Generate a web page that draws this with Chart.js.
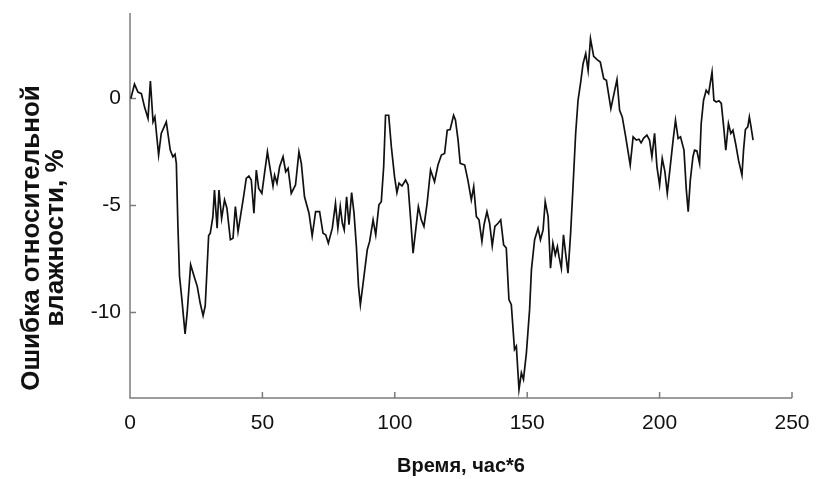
<!DOCTYPE html>
<html lang="ru">
<head>
<meta charset="utf-8">
<title>Ошибка относительной влажности</title>
<script src="https://cdn.jsdelivr.net/npm/chart.js@4.4.1/dist/chart.umd.min.js"></script>
<style>
  html, body { margin: 0; padding: 0; background: #fff; }
  #wrap { width: 816px; height: 479px; }
</style>
</head>
<body>
<div id="wrap"><canvas id="rhChart" width="816" height="479"></canvas></div>
<script>
// time axis, units of 6 hours
const timeSteps = [
  0.3, 1.7, 3.0, 4.3, 5.5, 6.8, 7.7, 8.7, 9.4, 10.8, 11.8, 13.7, 15.2, 16.2, 17.0, 17.5,
  18.1, 18.7, 19.6, 20.8, 21.6, 22.9, 24.4, 25.4, 26.5, 27.6, 28.4, 29.0, 29.7, 30.3, 31.3,
  31.9, 32.9, 33.6, 34.6, 35.7, 36.6, 37.9, 38.9, 39.8, 40.8, 42.0, 42.9, 43.9, 44.9, 45.8,
  46.8, 47.7, 48.6, 49.8, 50.8, 51.9, 53.0, 54.0, 54.6, 55.5, 56.5, 57.8, 58.8, 59.7, 60.9,
  62.5, 63.8, 64.7, 65.9, 67.6, 68.8, 70.1, 71.6, 72.9, 73.9, 74.9, 76.4, 77.6, 78.5, 79.4,
  80.2, 80.9, 81.8, 82.7, 83.7, 84.6, 85.5, 86.3, 87.0, 88.2, 89.6, 90.5, 91.8, 92.8, 94.0,
  94.9, 95.8, 96.5, 97.7, 98.7, 99.9, 100.8, 101.6, 102.7, 104.1, 105.0, 106.0, 106.9, 107.9,
  108.9, 110.0, 111.0, 112.2, 113.5, 115.0, 116.3, 117.6, 118.8, 119.8, 120.9, 122.2, 122.9,
  123.9, 124.7, 126.4, 127.6, 128.9, 129.8, 130.8, 131.8, 132.9, 133.7, 134.8, 135.8, 136.8,
  137.8, 139.0, 140.0, 141.1, 142.1, 143.1, 144.0, 145.2, 145.9, 146.9, 147.8, 148.6, 149.7,
  150.9, 151.6, 152.8, 154.1, 155.0, 156.0, 156.8, 157.9, 158.8, 159.7, 160.6, 161.4, 162.0,
  162.9, 163.7, 164.5, 165.4, 166.4, 167.3, 168.3, 169.2, 170.2, 171.1, 172.1, 173.0, 173.9,
  175.1, 176.4, 177.6, 178.9, 179.9, 181.6, 183.9, 184.9, 185.9, 187.2, 188.0, 188.9, 190.0,
  191.2, 192.2, 193.0, 194.0, 195.2, 196.2, 197.1, 198.1, 199.0, 200.0, 201.0, 202.0, 202.9,
  204.0, 205.1, 206.0, 207.0, 207.9, 209.2, 210.1, 210.8, 211.6, 212.6, 213.2, 214.1, 215.1,
  215.7, 216.6, 217.6, 218.5, 219.1, 219.8, 220.5, 221.4, 222.4, 223.3, 224.2, 225.0, 226.0,
  226.9, 227.7, 228.7, 229.8, 231.1, 231.7, 232.4, 233.3, 233.9, 234.5, 235.3
];

// relative humidity error, %
const rhError = [
  0.0, 0.67, 0.3, 0.23, -0.4, -0.93, 0.82, -1.09, -0.86, -2.64, -1.63, -1.09, -2.41, -2.72, -2.6, -3.03,
  -5.98, -8.3, -9.4, -11.0, -10.0, -7.77, -8.39, -8.78, -9.56, -10.15, -9.7, -8.2, -6.4, -6.3, -5.52,
  -4.28, -6.06, -4.28, -5.6, -4.74, -5.13, -6.6, -6.53, -5.05, -6.22, -5.29, -4.59, -3.73, -3.62, -3.81,
  -5.36, -3.34, -4.2, -4.43, -3.5, -2.49, -3.34, -4.09, -3.58, -3.96, -3.19, -2.72, -3.42, -3.26, -4.43,
  -4.04, -2.49, -3.03, -4.59, -5.36, -6.42, -5.29, -5.29, -6.3, -6.37, -6.76, -6.06, -4.9, -6.06, -5.05,
  -5.83, -6.14, -4.59, -5.9, -4.4, -5.36, -6.92, -8.78, -9.64, -8.47, -7.07, -6.68, -5.67, -6.37, -4.97,
  -4.82, -3.19, -0.78, -0.78, -2.26, -3.65, -4.4, -3.96, -4.09, -3.81, -4.04, -5.67, -7.23, -6.14,
  -5.05, -5.67, -5.98, -4.9, -3.34, -3.89, -3.11, -2.64, -2.57, -1.48, -1.45, -0.78, -1.0,
  -1.94, -3.03, -3.11, -3.81, -4.74, -4.12, -5.52, -5.67, -6.68, -5.9, -5.29, -5.83, -6.89,
  -5.98, -5.83, -5.67, -6.84, -6.99, -9.4, -9.64, -11.73, -11.58, -13.6, -12.82, -13.13, -11.89,
  -9.87, -8.0, -6.6, -6.06, -6.6, -6.14, -4.82, -5.52, -7.93, -6.76, -7.31, -6.92, -7.38,
  -7.93, -6.37, -7.23, -8.16, -6.29, -4.12, -1.63, -0.08, 0.77, 1.63, 2.1, 1.32, 2.8,
  1.97, 1.82, 1.71, 0.93, 0.85, -0.47, 0.89, -0.55, -0.86, -1.79, -2.41, -3.11, -1.79,
  -1.94, -1.9, -2.07, -1.85, -1.71, -1.94, -2.72, -1.63, -3.19, -4.04, -2.8, -3.42, -4.43,
  -3.19, -1.94, -1.01, -1.87, -1.79, -2.41, -4.28, -5.29, -3.81, -2.72, -2.41, -2.45, -3.03,
  -1.17, -0.08, 0.39, 0.23, 0.7, 1.24, -0.08, -0.16, -0.1, -0.23, -1.32, -2.41, -1.17,
  -1.63, -1.48, -2.1, -2.88, -3.58, -2.41, -1.45, -1.32, -0.86, -1.3, -1.94
];

const xTicks = [0, 50, 100, 150, 200, 250];
const yTicks = [-10, -5, 0];
const xTitle = 'Время, час*6';
const yTitle = ['Ошибка относительной', 'влажности, %'];

const AXIS_COLOR = '#7c7c7c';
const TICK_FONT = '21px "Liberation Sans", Arial, sans-serif';
const X_TITLE_FONT = 'bold 20px "Liberation Sans", Arial, sans-serif';
const Y_TITLE_FONT = 'bold 26px "Liberation Sans", Arial, sans-serif';

// axis lines, inward tick marks, tick labels and titles
const axisDecor = {
  id: 'axisDecor',
  beforeDatasetsDraw(chart) {
    const { ctx, chartArea: a, scales: { x, y } } = chart;
    ctx.save();
    ctx.strokeStyle = AXIS_COLOR;
    ctx.lineWidth = 1.5;
    ctx.beginPath();
    ctx.moveTo(a.left, a.top);
    ctx.lineTo(a.left, a.bottom);
    ctx.lineTo(a.right, a.bottom);
    xTicks.forEach(v => {
      const px = x.getPixelForValue(v);
      ctx.moveTo(px, a.bottom);
      ctx.lineTo(px, a.bottom - 6);
    });
    yTicks.forEach(v => {
      const py = y.getPixelForValue(v);
      ctx.moveTo(a.left, py);
      ctx.lineTo(a.left + 6, py);
    });
    ctx.stroke();
    ctx.restore();
  },
  afterDraw(chart) {
    const { ctx, chartArea: a, scales: { x, y } } = chart;
    ctx.save();
    ctx.fillStyle = '#111';
    ctx.font = TICK_FONT;
    ctx.textBaseline = 'middle';
    ctx.textAlign = 'center';
    xTicks.forEach(v => ctx.fillText(String(v), x.getPixelForValue(v), a.bottom + 25));
    ctx.textAlign = 'right';
    yTicks.forEach(v => ctx.fillText(String(v), a.left - 9, y.getPixelForValue(v)));

    ctx.font = X_TITLE_FONT;
    ctx.textAlign = 'center';
    ctx.fillText(xTitle, (a.left + a.right) / 2, 466);

    ctx.font = Y_TITLE_FONT;
    ctx.translate(44, 238);
    ctx.rotate(-Math.PI / 2);
    ctx.fillText(yTitle[0], 0, -12);
    ctx.fillText(yTitle[1], 0, 12);
    ctx.restore();
  }
};

new Chart(document.getElementById('rhChart'), {
  type: 'line',
  data: {
    datasets: [{
      data: timeSteps.map((t, i) => ({ x: t, y: rhError[i] })),
      borderColor: '#111',
      borderWidth: 1.7,
      pointRadius: 0,
      tension: 0,
      fill: false
    }]
  },
  options: {
    responsive: false,
    animation: false,
    layout: { padding: { top: 13, right: 24, left: 0, bottom: 0 } },
    plugins: { legend: { display: false }, tooltip: { enabled: false } },
    scales: {
      x: {
        type: 'linear',
        min: 0,
        max: 250,
        grid: { display: false, drawTicks: false },
        border: { display: false },
        ticks: { display: false },
        afterBuildTicks: s => { s.ticks = xTicks.map(v => ({ value: v })); },
        afterFit: s => { s.height = 81; }
      },
      y: {
        min: -14,
        max: 4,
        grid: { display: false, drawTicks: false },
        border: { display: false },
        ticks: { display: false },
        afterBuildTicks: s => { s.ticks = yTicks.map(v => ({ value: v })); },
        afterFit: s => { s.width = 130; }
      }
    }
  },
  plugins: [axisDecor]
});
</script>
</body>
</html>
